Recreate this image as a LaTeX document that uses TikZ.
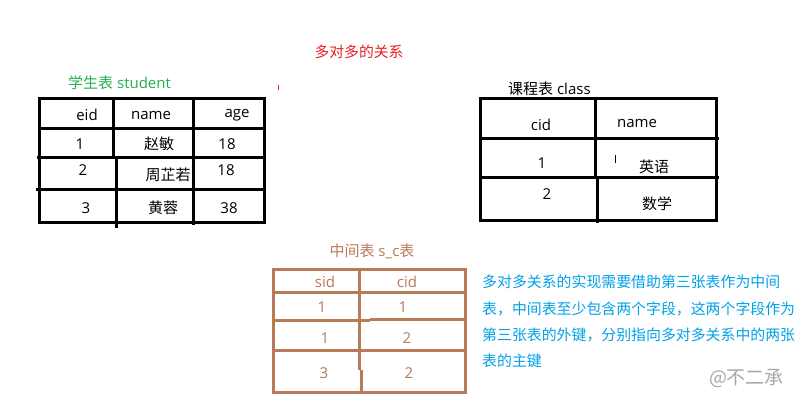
\documentclass[tikz,border=0pt]{standalone}
\usepackage{fontspec}
\setmainfont{Open Sans}
\newfontfamily\cjk{Noto Sans CJK SC}
\definecolor{pgreen}{HTML}{22B14C}
\definecolor{pred}{HTML}{ED1C24}
\definecolor{pbrown}{HTML}{B97A57}
\definecolor{pblue}{HTML}{00A2E8}
\definecolor{wgray}{HTML}{A8A8A8}
\tikzset{
  tbl/.style={line width=3pt},
  btbl/.style={line width=3pt, draw=pbrown},
  cell/.style={inner sep=0pt, font=\fontsize{15}{16}\selectfont},
  bcell/.style={cell, text=pbrown},
  ttl/.style={inner sep=0pt, font=\fontsize{15}{16}\selectfont},
}
\begin{document}
\begin{tikzpicture}[x=1pt,y=-1pt]
\useasboundingbox[fill=white] (0,0) rectangle (805,409);
% title
\node[ttl, text=pred, font=\cjk\fontsize{14.8}{16}\selectfont] (title) at (359,52) {多对多的关系};
\draw[pred, line width=1.5pt] (278.5,85) -- (278.5,90);
% student table
\node[ttl, text=pgreen, anchor=west] (stitle) at (68,83) {{\cjk 学生表} student};
\draw[tbl] (39,99) rectangle (264,222);
\draw[tbl] (39,128) -- (264,128);
\draw[tbl] (37,157) -- (266,157);
\draw[tbl] (36,189) -- (266,189);
\draw[tbl] (113,99) -- (113,157) (116,157) -- (116,228);
\draw[tbl] (193,99) -- (193,225);
\node[cell] (s_eid) at (87,115) {eid};
\node[cell] (s_name) at (151,115) {name};
\node[cell] (s_age) at (237,115) {age};
\node[cell] (s_1) at (80,144) {1};
\node[cell] (s_n1) at (159,144) {\cjk 赵敏};
\node[cell] (s_a1) at (227,144) {18};
\node[cell] (s_2) at (83,170) {2};
\node[cell] (s_n2) at (168,175) {\cjk 周芷若};
\node[cell] (s_a2) at (226,170) {18};
\node[cell] (s_3) at (86,208) {3};
\node[cell] (s_n3) at (163,208) {\cjk 黄蓉};
\node[cell] (s_a3) at (229,208) {38};
% class table
\node[ttl, anchor=west] (ctitle) at (508,89) {{\cjk 课程表} class};
\draw[tbl] (480,99) rectangle (716,220);
\draw[tbl] (480,138) -- (719,138);
\draw[tbl] (480,177) -- (719,177);
\draw[tbl] (595.5,99) -- (595.5,177) (597,177) -- (597,223);
\node[cell] (c_cid) at (541,125) {cid};
\node[cell] (c_name) at (637,123) {name};
\node[cell] (c_1) at (542,163) {1};
\draw[line width=1.2pt] (615.5,155) -- (615.5,163);
\node[cell] (c_n1) at (654,167) {\cjk 英语};
\node[cell] (c_2) at (547,194) {2};
\node[cell] (c_n2) at (657,204) {\cjk 数学};
% s_c table
\node[ttl, text=pbrown] (mtitle) at (372,251) {{\cjk 中间表} s\_c{\cjk 表}};
\draw[btbl] (273,269) rectangle (465,392);
\draw[btbl] (273,292) -- (467,292);
\draw[btbl] (273,320) -- (370,320) (370,319.5) -- (467,319.5);
\draw[btbl] (273,350) -- (465,350);
\draw[btbl] (359.5,269) -- (359.5,370) (361,370) -- (361,393);
\node[bcell] (m_sid) at (325,282) {sid};
\node[bcell] (m_cid) at (407,282) {cid};
\node[bcell] (m_s1) at (322,307) {1};
\node[bcell] (m_c1) at (403,307) {1};
\node[bcell] (m_s2) at (325,338) {1};
\node[bcell] (m_c2) at (407,338) {2};
\node[bcell] (m_s3) at (324,373) {3};
\node[bcell] (m_c3) at (409,373) {2};
% note
\node[inner sep=0pt, anchor=north west, text=pblue, align=left,
  font=\cjk\fontsize{14.9}{26.2}\selectfont] (note) at (482,275)
  {多对多关系的实现需要借助第三张表作为中间\\表，中间表至少包含两个字段，这两个字段作为\\第三张表的外键，分别指向多对多关系中的两张\\表的主键};
\node[inner sep=0pt, text=wgray, font=\cjk\fontsize{19}{20}\selectfont] (wm) at (746.5,379) {@不二承};
\end{tikzpicture}
\end{document}
